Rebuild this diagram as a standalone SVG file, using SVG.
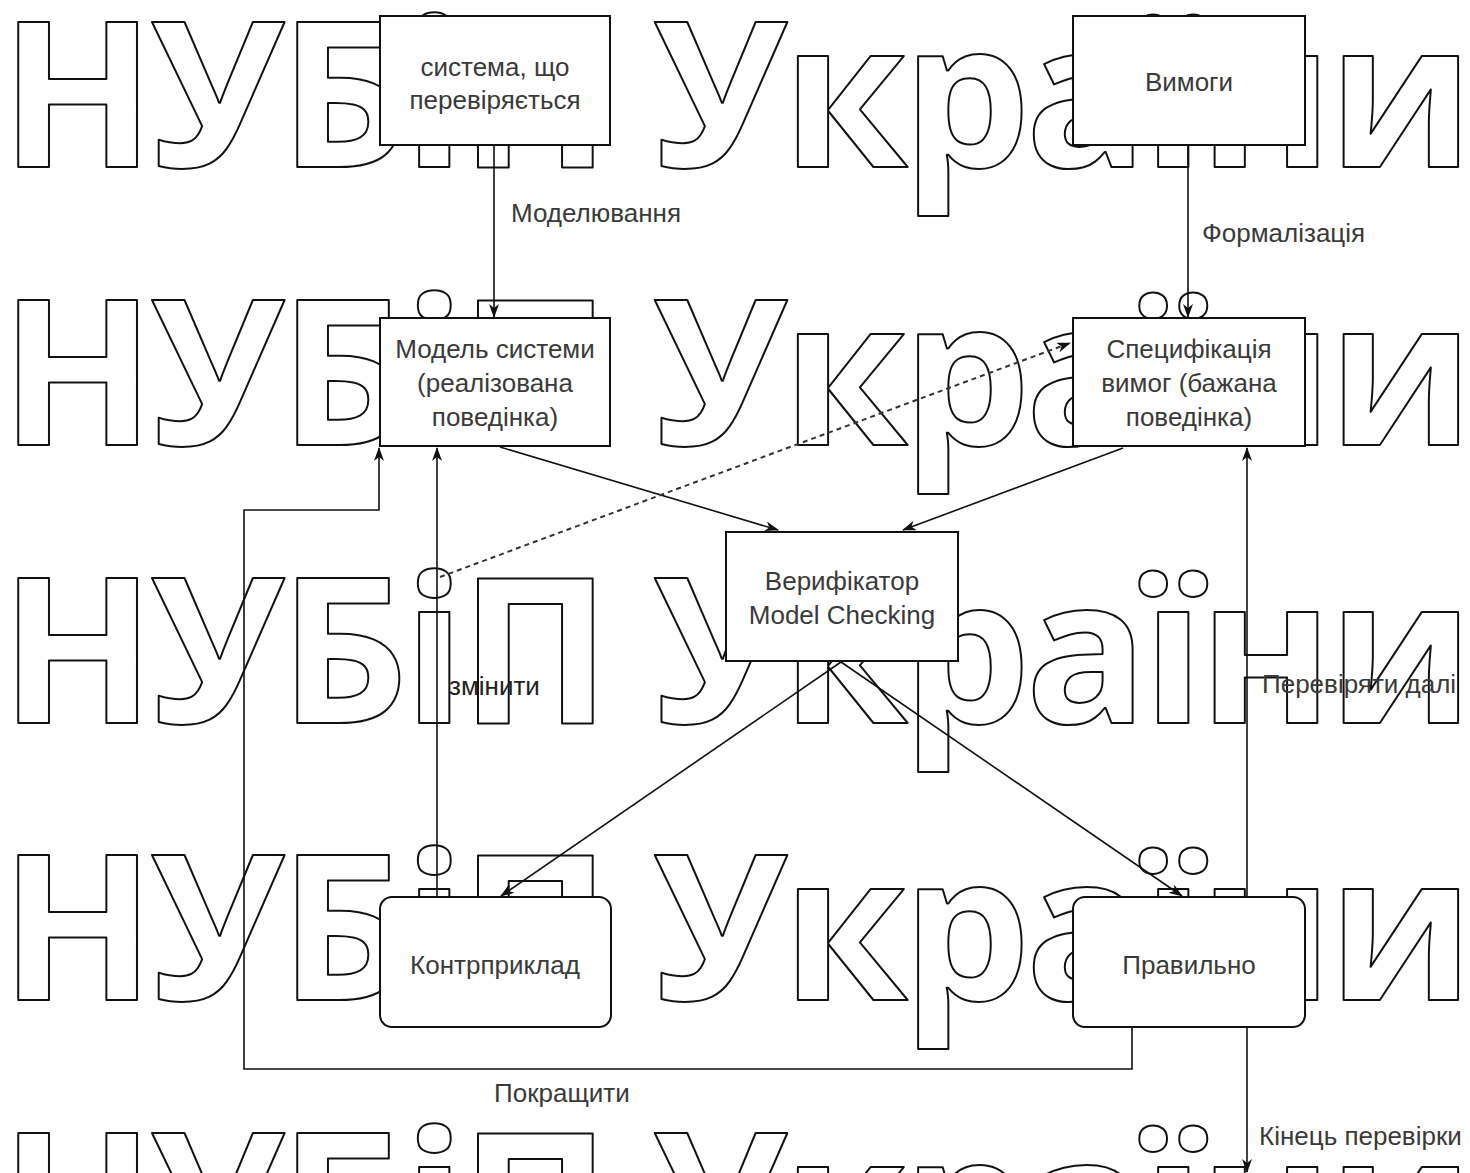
<svg xmlns="http://www.w3.org/2000/svg" width="1470" height="1173" viewBox="0 0 1470 1173">
<defs>
<style>
.wm{font-family:"Open Sans","Noto Sans",sans-serif;font-weight:700;font-size:203px;fill:#fff;stroke:#111;stroke-width:2;stroke-linejoin:round}
.box{fill:#fff;stroke:#111;stroke-width:2}
.t{font-family:"Liberation Sans",Arial,sans-serif;font-size:26px;fill:#3a3a3a;text-anchor:middle}
.lbl{font-family:"Liberation Sans",Arial,sans-serif;font-size:26px;fill:#3a3a3a}
.e{fill:none;stroke:#111;stroke-width:1.6}
.d{fill:none;stroke:#333;stroke-width:2;stroke-dasharray:5 4}
</style>
<marker id="arr" viewBox="0 0 14 10" refX="13" refY="5" markerWidth="14" markerHeight="10" markerUnits="userSpaceOnUse" orient="auto">
<path d="M0,0 L14,5 L0,10 L4,5 Z" fill="#111"/>
</marker>
</defs>
<rect width="1470" height="1173" fill="#fff"/>
<g id="watermark">
<text class="wm" x="0" y="167" textLength="1474" lengthAdjust="spacing">НУБіП України</text>
<text class="wm" x="0" y="445" textLength="1474" lengthAdjust="spacing">НУБіП України</text>
<text class="wm" x="0" y="723" textLength="1474" lengthAdjust="spacing">НУБіП України</text>
<text class="wm" x="0" y="1000" textLength="1474" lengthAdjust="spacing">НУБіП України</text>
<text class="wm" x="0" y="1278" textLength="1474" lengthAdjust="spacing">НУБіП України</text>
</g>
<g id="connectors">
<path class="e" d="M494,145 V317" marker-end="url(#arr)"/>
<path class="e" d="M1188,145 V317" marker-end="url(#arr)"/>
<path class="e" d="M500,447 L778,530" marker-end="url(#arr)"/>
<path class="e" d="M1123,448 L903,530" marker-end="url(#arr)"/>
<path class="d" d="M440,577 L1070,343" marker-end="url(#arr)"/>
<path class="e" d="M841,662 L501,896" marker-end="url(#arr)"/>
<path class="e" d="M841,662 L1182,896" marker-end="url(#arr)"/>
<path class="e" d="M437,897 V448" marker-end="url(#arr)"/>
<path class="e" d="M1247,897 V448" marker-end="url(#arr)"/>
<path class="e" d="M1132,1027 V1069 H244 V510 H379 V448" marker-end="url(#arr)"/>
<path class="e" d="M1247,1027 V1172" marker-end="url(#arr)"/>
<text class="lbl" x="511" y="222">Моделювання</text>
<text class="lbl" x="1202" y="242">Формалізація</text>
<text class="lbl" x="449" y="695" style="fill:#222">змінити</text>
<text class="lbl" x="1262" y="693">Перевіряти далі</text>
<text class="lbl" x="494" y="1102">Покращити</text>
<text class="lbl" x="1259" y="1145">Кінець перевірки</text>
</g>
<g id="n-system">
<rect class="box" x="380" y="16" width="230" height="129"/>
<text class="t" x="495" y="76">система, що</text>
<text class="t" x="495" y="109">перевіряється</text>
</g>
<g id="n-req">
<rect class="box" x="1073" y="16" width="232" height="129"/>
<text class="t" x="1189" y="91">Вимоги</text>
</g>
<g id="n-model">
<rect class="box" x="380" y="318" width="230" height="128"/>
<text class="t" x="495" y="358">Модель системи</text>
<text class="t" x="495" y="392">(реалізована</text>
<text class="t" x="495" y="426">поведінка)</text>
</g>
<g id="n-spec">
<rect class="box" x="1073" y="318" width="232" height="128"/>
<text class="t" x="1189" y="358">Специфікація</text>
<text class="t" x="1189" y="392">вимог (бажана</text>
<text class="t" x="1189" y="426">поведінка)</text>
</g>
<g id="n-verifier">
<rect class="box" x="726" y="532" width="232" height="129"/>
<text class="t" x="842" y="590">Верифікатор</text>
<text class="t" x="842" y="624">Model Checking</text>
</g>
<g id="n-counter">
<rect class="box" x="380" y="897" width="231" height="130" rx="12"/>
<text class="t" x="495" y="974">Контрприклад</text>
</g>
<g id="n-ok">
<rect class="box" x="1073" y="897" width="232" height="130" rx="12"/>
<text class="t" x="1189" y="974">Правильно</text>
</g>
</svg>
